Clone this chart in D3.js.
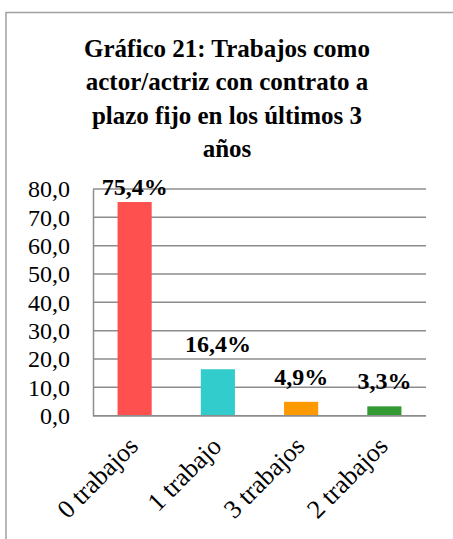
<!DOCTYPE html>
<html>
<head>
<meta charset="utf-8">
<script src="https://cdn.jsdelivr.net/npm/d3@7"></script>
<style>
html,body{margin:0;padding:0;background:#fff;}
svg{display:block;}
svg text{font-family:"Liberation Serif";fill:#000;}
</style>
</head>
<body>
<svg id="chart" width="453" height="539"></svg>
<script>
const categories = ["0 trabajos", "1 trabajo", "3 trabajos", "2 trabajos"];
const values = [75.4, 16.4, 4.9, 3.3];
const valueLabels = ["75,4%", "16,4%", "4,9%", "3,3%"];
const colors = ["#FF5050", "#33CCCC", "#FF9900", "#339933"];
const yTicks = [0, 10, 20, 30, 40, 50, 60, 70, 80];
const titleLines = ["Gráfico 21: Trabajos como", "actor/actriz con contrato a", "plazo fijo en los últimos 3", "años"];

(function () {
const svg = d3.select("#chart");
const font = "\"Liberation Serif\"";

// frame
svg.append("rect").attr("x", 6).attr("y", 12.5).attr("width", 460).attr("height", 560)
  .attr("fill", "#fff").attr("stroke", "#a0a0a0").attr("stroke-width", 1.5);

// title
const title = svg.append("text").attr("text-anchor", "middle")
  .style("font-family", font).style("font-weight", "bold").style("font-size", "25px");
titleLines.forEach((t, i) => {
  title.append("tspan").attr("x", 227).attr("y", 57 + i * 33.3).text(t);
});

const pLeft = 93, pRight = 426, pTop = 189, pBottom = 415.7;
const x = d3.scaleBand().domain(categories).range([pLeft, pRight]).paddingInner(0.59).paddingOuter(0.295);
const y = d3.scaleLinear().domain([0, 80]).range([pBottom, pTop]);

// gridlines
svg.append("g").selectAll("line").data(yTicks).join("line")
  .attr("x1", pLeft).attr("x2", pRight)
  .attr("y1", d => y(d)).attr("y2", d => y(d))
  .attr("stroke", "#8c8c8c").attr("stroke-width", 1.5);

// y axis
const yAxis = svg.append("g").attr("transform", `translate(${pLeft},0)`)
  .call(d3.axisLeft(y).tickValues(yTicks).tickSize(0).tickPadding(23)
    .tickFormat(d => d3.format(".1f")(d).replace(".", ",")));
yAxis.attr("font-family", null).attr("font-size", null);
yAxis.select(".domain").attr("stroke", "#8c8c8c").attr("stroke-width", 1.5);
yAxis.selectAll("text").style("font-family", font).style("font-size", "24px").attr("fill", "#000");

// bars
svg.append("g").selectAll("rect").data(values).join("rect")
  .attr("x", (d, i) => x(categories[i]))
  .attr("width", x.bandwidth())
  .attr("y", d => y(d))
  .attr("height", d => y(0) - y(d))
  .attr("fill", (d, i) => colors[i]);

// baseline on top
svg.append("line").attr("x1", pLeft).attr("x2", pRight).attr("y1", y(0)).attr("y2", y(0))
  .attr("stroke", "#8c8c8c").attr("stroke-width", 1.5);

// value labels
svg.append("g").selectAll("text").data(values).join("text")
  .attr("x", (d, i) => x(categories[i]) + x.bandwidth() / 2)
  .attr("y", d => Math.max(y(d) - 17, 195))
  .attr("text-anchor", "middle")
  .style("font-family", font).style("font-weight", "bold").style("font-size", "24px")
  .text((d, i) => valueLabels[i]);

// category labels
svg.append("g").selectAll("text").data(categories).join("text")
  .attr("transform", d => `translate(${x(d) + x.bandwidth() / 2 + 5},${pBottom + 32}) rotate(-45)`)
  .attr("text-anchor", "end")
  .style("font-family", font).style("font-size", "26px")
  .text(d => d);
})();
</script>
</body>
</html>
